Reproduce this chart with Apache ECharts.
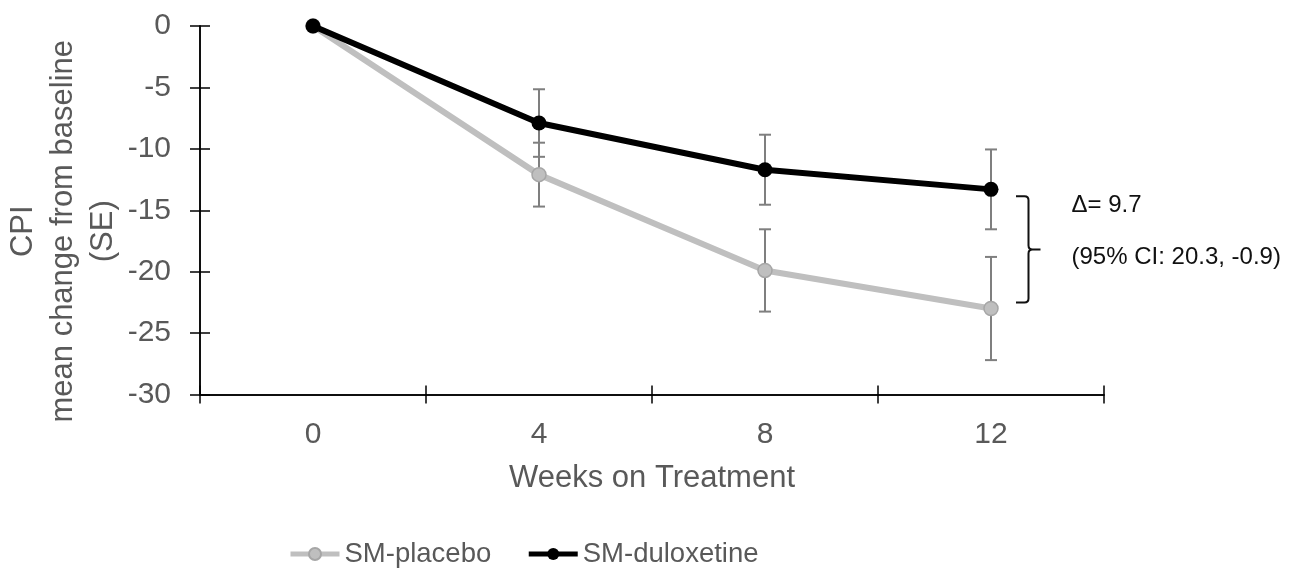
<!DOCTYPE html>
<html>
<head>
<meta charset="utf-8">
<style>
html,body{margin:0;padding:0;background:#fff;}
#chart{width:1299px;height:575px;}
</style>
<script src="https://cdn.jsdelivr.net/npm/echarts@6/dist/echarts.min.js"></script>
</head>
<body>
<div id="chart"></div>
<script>
// ---- data ----
const weeks = ['0', '4', '8', '12'];
const placeboMean = [0, -12.1, -19.9, -23.0];
const placeboSE   = [0, 2.6, 3.35, 4.2];
const duloxMean   = [0, -7.9, -11.7, -13.3];
const duloxSE     = [0, 2.75, 2.85, 3.25];
const yTicks = { min: -30, max: 0, interval: 5 };
const deltaText = '\u0394= 9.7';
const ciText = '(95% CI: 20.3, -0.9)';
const seriesNames = ['SM-placebo', 'SM-duloxetine'];

function errData(mean, se) {
  const out = [];
  for (let i = 0; i < mean.length; i++) {
    if (se[i] > 0) out.push([i, mean[i] - se[i], mean[i] + se[i]]);
  }
  return out;
}

const FONT = '"Liberation Sans", Arial, Helvetica, sans-serif';
const TXT = '#595959';

function errRender(params, api) {
  const x = api.value(0), lo = api.value(1), hi = api.value(2);
  const pLo = api.coord([x, lo]), pHi = api.coord([x, hi]);
  const cx = pLo[0], w = 6;
  const style = { stroke: '#7f7f7f', lineWidth: 2 };
  return {
    type: 'group',
    children: [
      { type: 'line', shape: { x1: cx, y1: pLo[1], x2: cx, y2: pHi[1] }, style: style },
      { type: 'line', shape: { x1: cx - w, y1: pLo[1], x2: cx + w, y2: pLo[1] }, style: style },
      { type: 'line', shape: { x1: cx - w, y1: pHi[1], x2: cx + w, y2: pHi[1] }, style: style }
    ]
  };
}

function braceRender(params, api) {
  const x = api.value(0), a = api.value(1), b = api.value(2);
  const pA = api.coord([x, a]), pB = api.coord([x, b]);
  const top = Math.min(pA[1], pB[1]) + 7;
  const bottom = Math.max(pA[1], pB[1]) - 6;
  const x0 = pA[0] + 25, xv = x0 + 12.5, xm = x0 + 24.5, r = 4;
  const ym = (top + bottom) / 2;
  const d = 'M' + x0 + ' ' + top + ' L' + (xv - r) + ' ' + top +
    ' Q' + xv + ' ' + top + ' ' + xv + ' ' + (top + r) +
    ' L' + xv + ' ' + (ym - r) +
    ' Q' + xv + ' ' + ym + ' ' + (xv + r) + ' ' + ym +
    ' L' + xm + ' ' + ym +
    ' M' + (xv + r) + ' ' + ym +
    ' Q' + xv + ' ' + ym + ' ' + xv + ' ' + (ym + r) +
    ' L' + xv + ' ' + (bottom - r) +
    ' Q' + xv + ' ' + bottom + ' ' + (xv - r) + ' ' + bottom +
    ' L' + x0 + ' ' + bottom;
  return {
    type: 'group',
    children: [
      { type: 'path', shape: { pathData: d }, style: { stroke: '#111', lineWidth: 2, fill: null } },
      { type: 'text', style: { x: xv + 43, y: ym - 44, text: deltaText, fontSize: 24, fontFamily: FONT, fill: '#111', align: 'left', verticalAlign: 'middle' } },
      { type: 'text', style: { x: xv + 43, y: ym + 8, text: ciText, fontSize: 24, fontFamily: FONT, fill: '#111', align: 'left', verticalAlign: 'middle' } }
    ]
  };
}

const chart = echarts.init(document.getElementById('chart'), null, { renderer: 'canvas' });
chart.setOption({
  animation: false,
  backgroundColor: '#fff',
  textStyle: { fontFamily: FONT },
  grid: { left: 200, right: 195, top: 26, bottom: 180.5, containLabel: false, outerBoundsMode: 'none' },
  legend: {
    data: seriesNames,
    left: 288, top: 540, padding: 0,
    itemWidth: 49, itemHeight: 15, itemGap: 35,
    lineStyle: { width: 5 },
    textStyle: { fontSize: 27.5, color: TXT, fontFamily: FONT }
  },
  xAxis: [{
    type: 'category', data: weeks, boundaryGap: true,
    name: 'Weeks on Treatment', nameLocation: 'middle', nameGap: 68, nameMoveOverlap: false,
    nameTextStyle: { fontSize: 31, color: TXT, fontFamily: FONT },
    axisLine: { onZero: false, lineStyle: { color: '#000', width: 1.5 } },
    axisTick: { show: true, inside: false, length: 9, lineStyle: { color: '#000', width: 1.5 } },
    axisLabel: { fontSize: 30, color: TXT, margin: 25, fontFamily: FONT },
    splitLine: { show: false }
  }, {
    type: 'category', data: weeks, boundaryGap: true, position: 'bottom',
    axisLine: { onZero: false, lineStyle: { color: '#000', width: 1.5 } },
    axisTick: { show: true, inside: true, length: 9, lineStyle: { color: '#000', width: 1.5 } },
    axisLabel: { show: false }, splitLine: { show: false }
  }],
  yAxis: [{
    type: 'value', min: yTicks.min, max: yTicks.max, interval: yTicks.interval,
    name: 'CPI\nmean change from baseline\n(SE)', nameLocation: 'middle', nameRotate: 90, nameGap: 77,
    nameMoveOverlap: false,
    nameTextStyle: { fontSize: 31, lineHeight: 40, color: TXT, fontFamily: FONT, padding: [0, 42, 0, 0] },
    axisLine: { show: true, lineStyle: { color: '#000', width: 1.5 } },
    axisTick: { show: true, inside: false, length: 10, lineStyle: { color: '#000', width: 1.5 } },
    axisLabel: { fontSize: 30, color: TXT, margin: 29, fontFamily: FONT },
    splitLine: { show: false }
  }, {
    type: 'value', min: yTicks.min, max: yTicks.max, interval: yTicks.interval, position: 'left',
    axisLine: { show: true, lineStyle: { color: '#000', width: 1.5 } },
    axisTick: { show: true, inside: true, length: 10, lineStyle: { color: '#000', width: 1.5 } },
    axisLabel: { show: false }, splitLine: { show: false }
  }],
  series: [
    {
      type: 'custom', name: 'errP', renderItem: errRender, data: errData(placeboMean, placeboSE),
      encode: { x: 0, y: [1, 2] }, z: 1, silent: true
    },
    {
      type: 'custom', name: 'errD', renderItem: errRender, data: errData(duloxMean, duloxSE),
      encode: { x: 0, y: [1, 2] }, z: 1, silent: true
    },
    {
      name: seriesNames[0], type: 'line', data: placeboMean, z: 3,
      symbol: 'circle', symbolSize: 14,
      lineStyle: { color: '#bfbfbf', width: 6 },
      itemStyle: { color: '#bfbfbf', borderColor: '#a6a6a6', borderWidth: 1.5 }
    },
    {
      name: seriesNames[1], type: 'line', data: duloxMean, z: 4,
      symbol: 'circle', symbolSize: 15,
      lineStyle: { color: '#000', width: 6 },
      itemStyle: { color: '#000', borderColor: '#000', borderWidth: 0 }
    },
    {
      type: 'custom', name: 'brace', renderItem: braceRender,
      data: [[3, duloxMean[3], placeboMean[3]]],
      encode: { x: 0, y: [1, 2] }, z: 5, silent: true
    }
  ]
});
</script>
</body>
</html>
